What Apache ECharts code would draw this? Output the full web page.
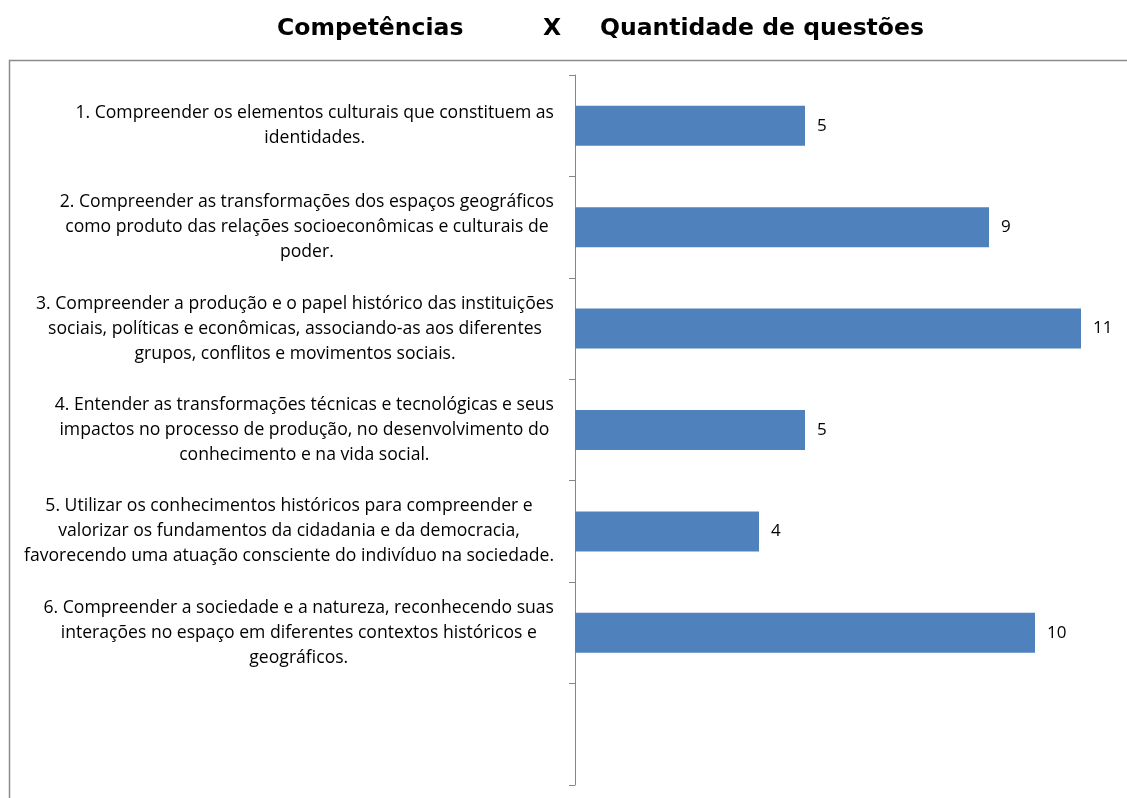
<!DOCTYPE html>
<html>
<head>
<meta charset="utf-8">
<script src="https://cdn.jsdelivr.net/npm/echarts@6/dist/echarts.min.js"></script>
<style>
  html, body { margin: 0; padding: 0; background: #fff; }
  #main { width: 1127px; height: 798px; }
</style>
</head>
<body>
<div id="main"></div>
<script>
// competências (linhas de cada rótulo)
const categorias = [
  ['1. Compreender os elementos culturais que constituem as', 'identidades.'],
  ['2. Compreender as transformações dos espaços geográficos', 'como produto das relações socioeconômicas e culturais de', 'poder.'],
  ['3. Compreender a produção e o papel histórico das instituições', 'sociais, políticas e econômicas, associando-as aos diferentes', 'grupos, conflitos e movimentos sociais.'],
  ['4. Entender as transformações técnicas e tecnológicas e seus', 'impactos no processo de produção, no desenvolvimento do', 'conhecimento e na vida social.'],
  ['5. Utilizar os conhecimentos históricos para compreender e', 'valorizar os fundamentos da cidadania e da democracia,', 'favorecendo uma atuação consciente do indivíduo na sociedade.'],
  ['6. Compreender a sociedade e a natureza, reconhecendo suas', 'interações no espaço em diferentes contextos históricos e', 'geográficos.'],
  ['']
];
const quantidades = [5, 9, 11, 5, 4, 10, null];
const titulos = ['Competências', 'X', 'Quantidade de questões'];

const chart = echarts.init(document.getElementById('main'));

const tituloStyle = {
  fontFamily: 'DejaVu Sans',
  fontWeight: 'bold',
  fontSize: 23.5,
  color: '#000'
};

const option = {
  animation: false,
  title: [
    { text: titulos[0], left: 277, top: 17, padding: 0, textStyle: tituloStyle },
    { text: titulos[1], left: 543, top: 17, padding: 0, textStyle: tituloStyle },
    { text: titulos[2], left: 600, top: 17, padding: 0, textStyle: tituloStyle }
  ],
  graphic: [
    {
      type: 'rect',
      shape: { x: 9.5, y: 60.5, width: 1140, height: 800 },
      style: { fill: 'none', stroke: '#8c8c8c', lineWidth: 1.5 },
      silent: true
    }
  ],
  grid: { left: 575, top: 75, width: 558, bottom: 13 },
  xAxis: {
    type: 'value',
    min: 0,
    max: 12,
    show: false
  },
  yAxis: {
    type: 'category',
    inverse: true,
    data: categorias.map(l => l.join('\n')),
    axisLine: { show: true, lineStyle: { color: '#868686', width: 1 } },
    axisTick: { show: true, length: 6, lineStyle: { color: '#868686' } },
    axisLabel: {
      margin: 21,
      formatter: v => v.split('\n').map(s => '{c|' + s + '}').join('\n'),
      rich: {
        c: {
          align: 'center',
          fontFamily: 'Open Sans',
          fontSize: 17.6,
          lineHeight: 25,
          color: '#000'
        }
      }
    }
  },
  series: [
    {
      type: 'bar',
      data: quantidades,
      barWidth: 40,
      itemStyle: { color: '#4F81BD' },
      label: {
        show: true,
        position: 'right',
        distance: 12,
        fontFamily: 'Open Sans',
        fontSize: 17,
        color: '#000'
      }
    }
  ]
};

chart.setOption(option);
</script>
</body>
</html>
